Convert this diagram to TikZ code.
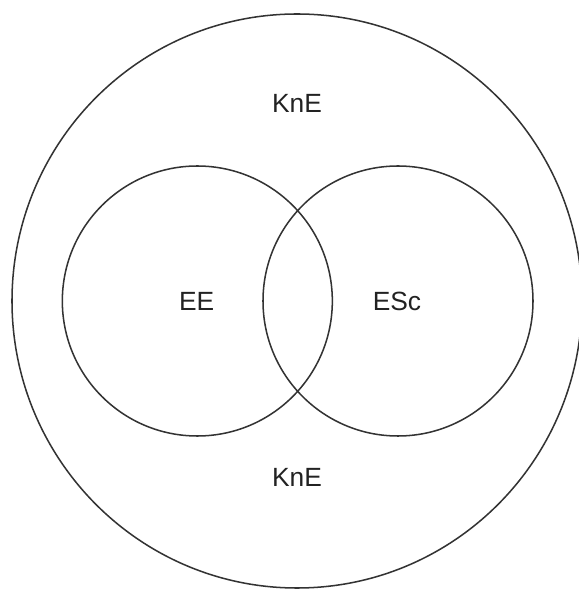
\documentclass[tikz,border=0pt]{standalone}
\usepackage{fontspec}
\setmainfont{Liberation Sans}
\usepackage{xcolor}
\usetikzlibrary{shapes.geometric}
\definecolor{ink}{HTML}{333333}
\definecolor{labelink}{HTML}{222222}
\tikzset{
  setring/.style={draw=ink,line width=1.3pt,ellipse,inner sep=0pt},
  subring/.style={draw=ink,line width=1.3pt,circle,inner sep=0pt,
                  minimum size=8.1cm},
  setlabel/.style={text=labelink,inner sep=0pt,
                   font=\fontsize{22.5}{27}\selectfont}
}
\begin{document}
\begin{tikzpicture}
        \useasboundingbox (-8.91,-8.73) rectangle (8.43,9.03);
        \node[setring,minimum width=17.1cm,minimum height=17.22cm] (kne) at (0,0) {};
        \node[subring] (ee) at (-2.99,0) {};
        \node[subring] (esc) at (3.03,0) {};
        \node[setlabel] (kneTop) at (0,5.94) {KnE};
        \node[setlabel] (kneBot) at (0,-5.30) {KnE};
        \node[setlabel] (eeLabel) at (-3.01,0) {EE};
        \node[setlabel] (escLabel) at (3.0,0) {ESc};
      \end{tikzpicture}
\end{document}
